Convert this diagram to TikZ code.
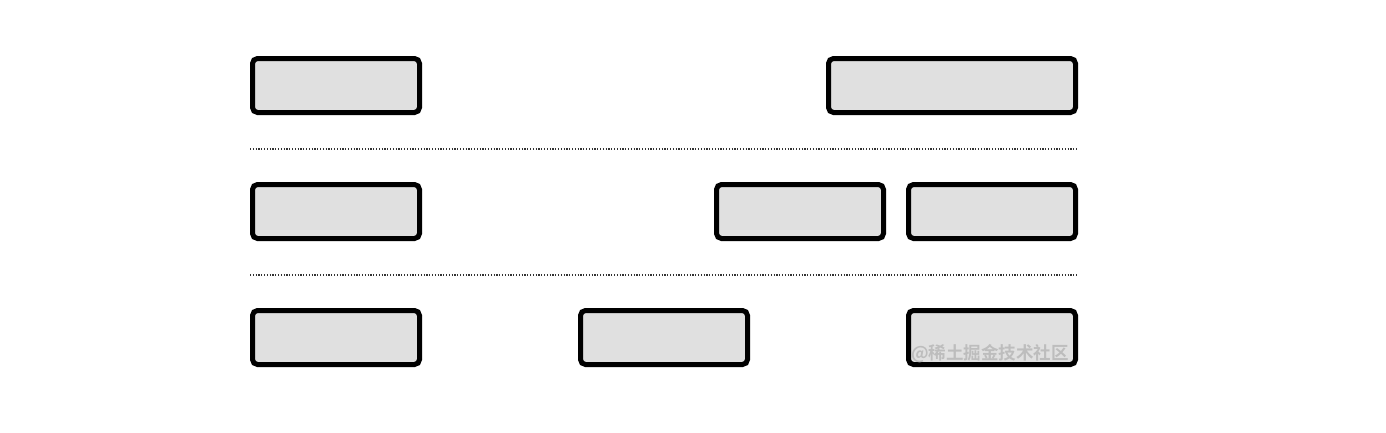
\documentclass[tikz,border=0pt]{standalone}
\usepackage{fontspec}
\newfontfamily\cjk{Noto Sans CJK SC Bold}
\definecolor{boxfill}{HTML}{E0E0E0}
\definecolor{dotcol}{HTML}{333333}
\definecolor{wmcol}{HTML}{BDBDBD}
\begin{document}
\begin{tikzpicture}[x=1pt,y=-1pt,
  blk/.style={draw=black,line width=5pt,rounded corners=5pt,fill=boxfill,
    minimum height=54pt,inner sep=0pt,outer sep=0pt},
  small/.style={blk,minimum width=167pt},
  wide/.style={blk,minimum width=247pt},
  sep/.style={draw=dotcol,line width=1.2pt,dash pattern=on 1.2pt off 1.6pt}]
\useasboundingbox[fill=white] (0,0) rectangle (1386,432);
\node[small] (a1) at (336,85.5) {};
\node[wide]  (a2) at (952,85.5) {};
\node[small] (b1) at (336,211.5) {};
\node[small] (b2) at (800,211.5) {};
\node[small] (b3) at (992,211.5) {};
\node[small] (c1) at (336,337.5) {};
\node[small] (c2) at (664,337.5) {};
\node[small] (c3) at (992,337.5) {};
\coordinate (l1a) at (250,149);
\coordinate (l1b) at (1078,149);
\coordinate (l2a) at (250,275);
\coordinate (l2b) at (1078,275);
\draw[sep] (l1a) -- (l1b);
\draw[sep] (l2a) -- (l2b);
\node[text=wmcol,font=\cjk\fontsize{17.5}{17.5}\selectfont,anchor=west,inner sep=0pt] (wm) at (911,353.5) {@稀土掘金技术社区};
\end{tikzpicture}
\end{document}
